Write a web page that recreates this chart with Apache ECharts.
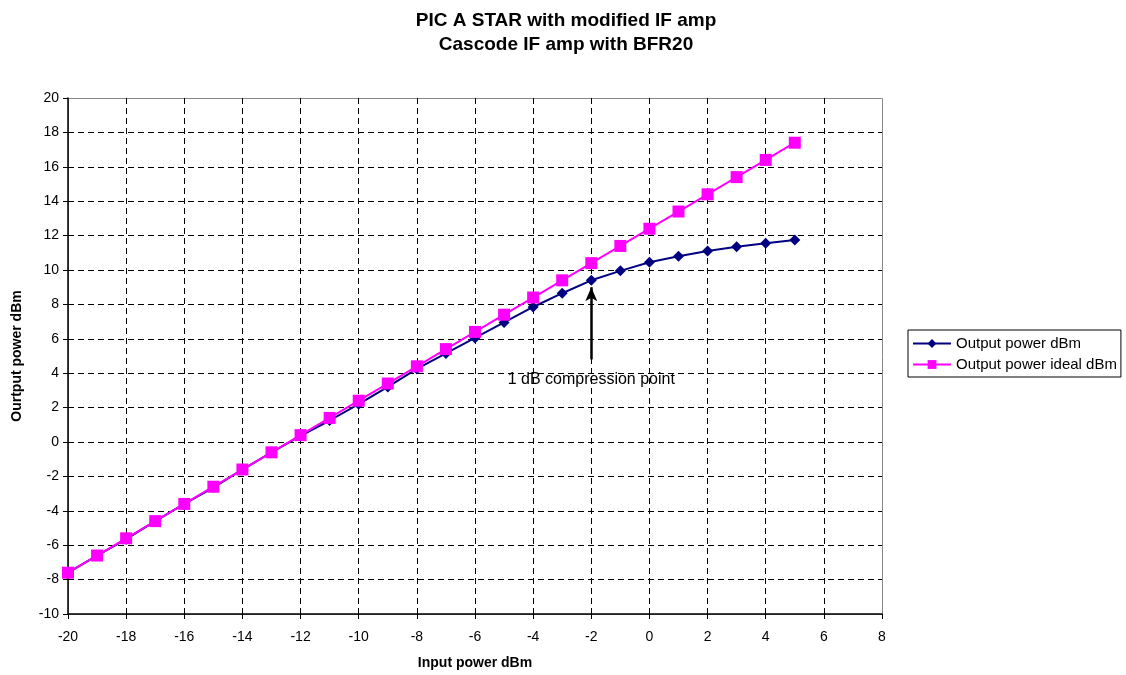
<!DOCTYPE html>
<html><head><meta charset="utf-8">
<script src="https://cdn.jsdelivr.net/npm/echarts@6/dist/echarts.min.js"></script>
<style>html,body{margin:0;padding:0;background:#fff}#c{width:1126px;height:675px}</style>
</head><body><div id="c"></div>
<script>
const inputPower = [-20,-19,-18,-17,-16,-15,-14,-13,-12,-11,-10,-9,-8,-7,-6,-5,-4,-3,-2,-1,0,1,2,3,4,5];
const outputPower = [-7.6,-6.6,-5.65,-4.6,-3.6,-2.65,-1.6,-0.6,0.35,1.25,2.2,3.2,4.25,5.15,6.05,6.95,7.85,8.65,9.4,9.95,10.45,10.8,11.1,11.35,11.55,11.75];
const outputIdeal = [-7.6,-6.6,-5.6,-4.6,-3.6,-2.6,-1.6,-0.6,0.4,1.4,2.4,3.4,4.4,5.4,6.4,7.4,8.4,9.4,10.4,11.4,12.4,13.4,14.4,15.4,16.4,17.4];
const seriesNames = ['Output power dBm','Output power ideal dBm'];
const annotationText = '1 dB compression point';
const arrowFrom = [-2, 4.8];
const arrowTo = [-2, 9.0];
const labelPos = [-2, 3.6];

const chart = echarts.init(document.getElementById('c'));
const font = 'Liberation Sans, Arial, sans-serif';
chart.setOption({
  animation: false,
  title: {
    text: 'PIC A STAR with modified IF amp\nCascode IF amp with BFR20',
    left: 561, top: 4, textAlign: 'center',
    textStyle: {fontFamily: font, fontSize: 19, fontWeight: 'bold', color: '#000', lineHeight: 24}
  },
  legend: {
    orient: 'vertical', left: 908, top: 330,
    borderColor: '#000', borderWidth: 1, padding: [6, 4, 5, 4], itemGap: 6,
    itemWidth: 38, itemHeight: 11,
    textStyle: {fontFamily: font, fontSize: 15, color: '#000'},
    data: seriesNames
  },
  grid: {left: 68, right: 244, top: 98, bottom: 61},
  xAxis: {
    type: 'value', min: -20, max: 8, interval: 2,
    name: 'Input power dBm', nameLocation: 'middle', nameGap: 42,
    nameTextStyle: {fontFamily: font, fontSize: 14, fontWeight: 'bold', color: '#000'},
    axisLine: {onZero: false, lineStyle: {color: '#000', width: 1.5}},
    axisTick: {show: true, length: 5, lineStyle: {color: '#000'}},
    axisLabel: {fontFamily: font, fontSize: 14, color: '#000', margin: 16},
    splitLine: {show: true, showMinLine: false, showMaxLine: false, lineStyle: {color: '#000', type: [6, 4], width: 1}}
  },
  yAxis: {
    type: 'value', min: -10, max: 20, interval: 2,
    name: 'Ourtput power dBm', nameLocation: 'middle', nameGap: 44,
    nameTextStyle: {fontFamily: font, fontSize: 14, fontWeight: 'bold', color: '#000'},
    axisLine: {show: true, onZero: false, lineStyle: {color: '#000', width: 1.5}},
    axisTick: {show: true, length: 5, lineStyle: {color: '#000'}},
    axisLabel: {fontFamily: font, fontSize: 14, color: '#000', margin: 9},
    splitLine: {show: true, showMinLine: false, showMaxLine: false, lineStyle: {color: '#000', type: [6, 4], width: 1}}
  },
  graphic: [{
    type: 'rect', shape: {x: 68.5, y: 98.5, width: 814, height: 516},
    style: {fill: 'none', stroke: '#888', lineWidth: 1}, silent: true, z: -1
  }],
  series: [
    {
      name: seriesNames[0], type: 'line',
      data: inputPower.map((x, i) => [x, outputPower[i]]),
      symbol: 'diamond', symbolSize: 11,
      itemStyle: {color: '#000080'}, lineStyle: {color: '#000080', width: 2}, z: 3,
      markLine: {
        silent: true, symbol: ['none', 'arrow'], symbolSize: [9, 14],
        lineStyle: {color: '#000', width: 2.5, type: 'solid'},
        label: {show: false},
        data: [[{coord: arrowFrom}, {coord: arrowTo}]]
      },
      markPoint: {
        silent: true, symbol: 'circle', symbolSize: 1, itemStyle: {color: 'rgba(0,0,0,0)'},
        label: {show: true, position: 'inside', formatter: annotationText,
          fontFamily: font, fontSize: 16, color: '#000'},
        data: [{coord: labelPos}]
      }
    },
    {
      name: seriesNames[1], type: 'line',
      data: inputPower.map((x, i) => [x, outputIdeal[i]]),
      symbol: 'rect', symbolSize: 12,
      itemStyle: {color: '#FF00FF'}, lineStyle: {color: '#FF00FF', width: 2}, z: 4
    }
  ]
});
</script></body></html>
